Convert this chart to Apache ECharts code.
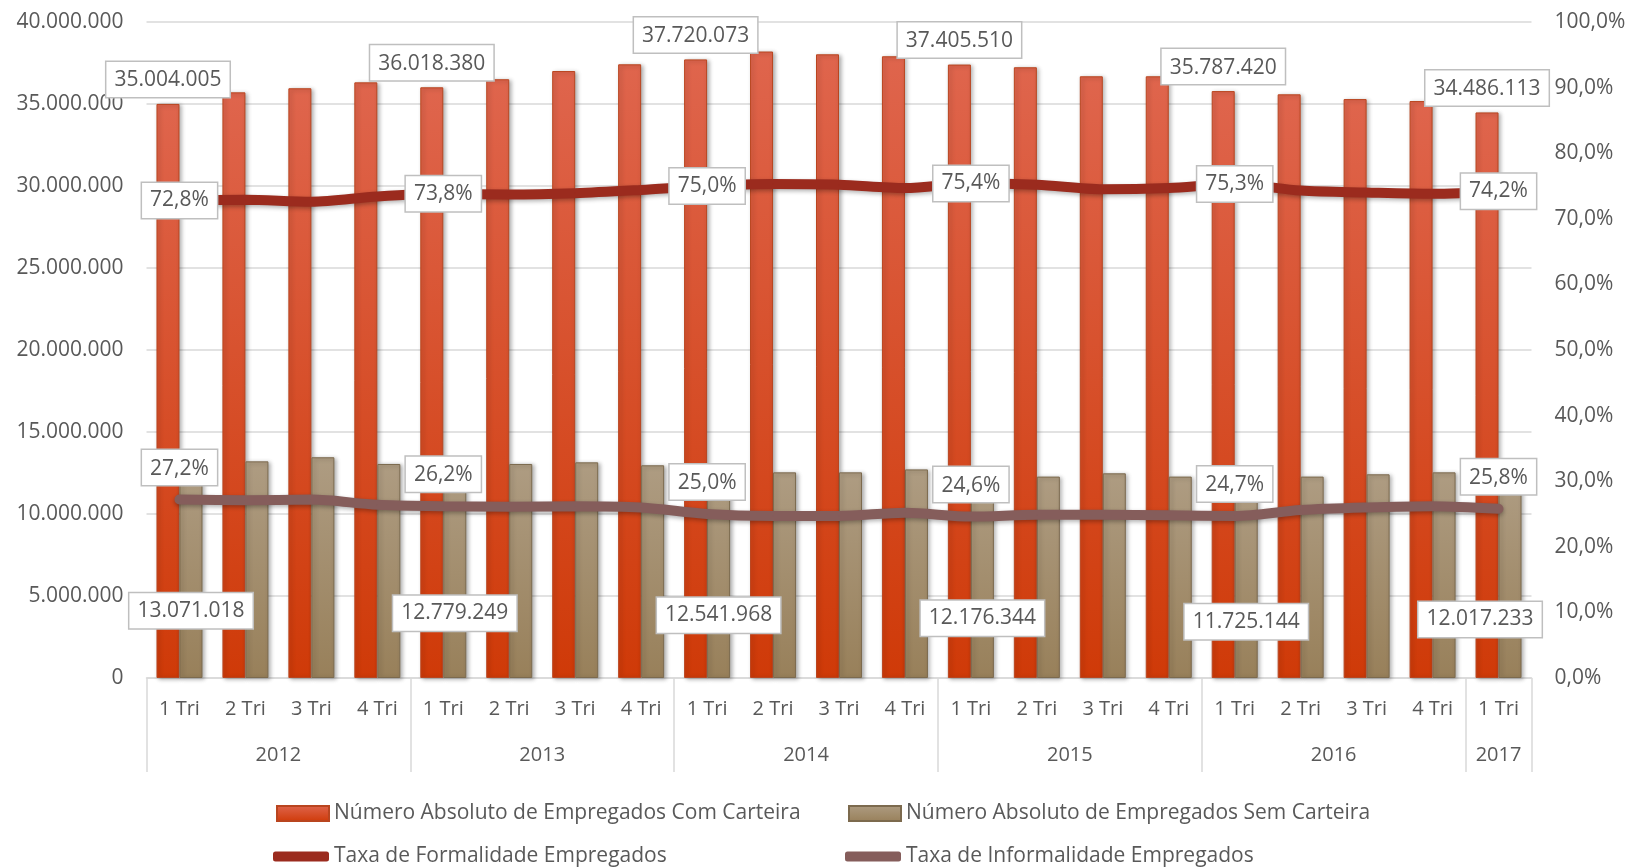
<!DOCTYPE html>
<html>
<head>
<meta charset="utf-8">
<script src="https://cdn.jsdelivr.net/npm/echarts@6/dist/echarts.min.js"></script>
<style>
	html, body { margin: 0; padding: 0; background: #fff; }
	#chart { width: 1631px; height: 868px; }
</style>
</head>
<body>
<div id="chart"></div>
<script>
	// categorias (trimestres) e anos
	const quarterLabels = ['1 Tri', '2 Tri', '3 Tri', '4 Tri', '1 Tri', '2 Tri', '3 Tri', '4 Tri', '1 Tri', '2 Tri', '3 Tri', '4 Tri',
		'1 Tri', '2 Tri', '3 Tri', '4 Tri', '1 Tri', '2 Tri', '3 Tri', '4 Tri', '1 Tri']
	const yearLabels = ['2012', '2013', '2014', '2015', '2016', '2017']
	const quartersPerYear = [4, 4, 4, 4, 4, 1]

	// séries
	const comCarteira = [35004005, 35710000, 35960000, 36320000, 36018380, 36510000, 37010000, 37420000, 37720073, 38200000, 38030000,
		37910000, 37405510, 37240000, 36690000, 36690000, 35787420, 35590000, 35300000, 35180000, 34486113]
	const semCarteira = [13071018, 13210000, 13460000, 13050000, 12779249, 13050000, 13150000, 12970000, 12541968, 12540000, 12540000,
		12720000, 12176344, 12280000, 12480000, 12280000, 11725144, 12280000, 12420000, 12540000, 12017233]
	const taxaFormal = [72.8, 72.9, 72.6, 73.4, 73.8, 73.7, 73.9, 74.4, 75.0, 75.3, 75.2, 74.7, 75.4, 75.2, 74.5, 74.7, 75.3, 74.3, 74.0, 73.8, 74.2]
	const taxaInformal = [27.2, 27.1, 27.2, 26.4, 26.2, 26.1, 26.2, 26.0, 25.0, 24.7, 24.7, 25.2, 24.6, 24.9, 24.9, 24.8, 24.7, 25.6, 26.0, 26.2, 25.8]

	const seriesNames = ['Número Absoluto de Empregados Com Carteira', 'Número Absoluto de Empregados Sem Carteira',
		'Taxa de Formalidade Empregados', 'Taxa de Informalidade Empregados']

	const FONT = '"Open Sans", "Noto Sans", sans-serif'
	const TEXT = '#595959'

	const fmtNum = v => String(Math.round(v)).replace(/\B(?=(\d{3})+(?!\d))/g, '.')
	const fmtPct = v => v.toFixed(1).replace('.', ',') + '%'

	// limites e centros dos anos no eixo inferior
	const yearBounds = [0]
	quartersPerYear.forEach(n => yearBounds.push(yearBounds[yearBounds.length - 1] + n))
	const yearCenters = yearLabels.map((y, i) => (yearBounds[i] + yearBounds[i + 1]) / 2)

	const boxLabel = {
		color: TEXT,
		fontFamily: FONT,
		fontSize: 21,
		backgroundColor: '#fff',
		borderColor: '#bfbfbf',
		borderWidth: 1.5,
		padding: [8, 8, 6, 8]
	}
	// rótulo só a cada 4 pontos; o último pode ser deslocado
	const every4 = (arr, label, lastShift) => arr.map((v, i) => {
		const l = Object.assign({ show: i % 4 === 0 }, label)
		if (lastShift && i === arr.length - 1) l.offset = [lastShift[0], lastShift[1]]
		return { value: v, label: l }
	})

	const dom = echarts.init(document.getElementById('chart'))
	const option = {
		backgroundColor: '#fff',
		animation: false,
		grid: {
			left: 146.5,
			right: 99.5,
			top: 22,
			bottom: 190
		},
		legend: [
			{ data: [seriesNames[0]], left: 271, top: 798, icon: 'rect', itemWidth: 52, itemHeight: 15 },
			{ data: [seriesNames[1]], left: 843, top: 798, icon: 'rect', itemWidth: 52, itemHeight: 15 },
			{ data: [seriesNames[2]], left: 268, top: 841, icon: 'roundRect', itemWidth: 56, itemHeight: 10 },
			{ data: [seriesNames[3]], left: 840, top: 841, icon: 'roundRect', itemWidth: 56, itemHeight: 10 }
		].map(l => Object.assign(l, {
			textStyle: { color: TEXT, fontFamily: FONT, fontSize: 21 },
			selectedMode: false
		})),
		xAxis: [{
			type: 'category',
			data: quarterLabels,
			axisLine: { lineStyle: { color: '#d9d9d9', width: 1.5 } },
			axisTick: { show: false },
			axisLabel: { color: TEXT, fontFamily: FONT, fontSize: 20, margin: 21, interval: 0 }
		}, {
			type: 'value',
			position: 'bottom',
			min: 0,
			max: quarterLabels.length,
			axisLine: { show: false },
			splitLine: { show: false },
			axisTick: {
				show: true,
				customValues: yearBounds,
				length: 94,
				lineStyle: { color: '#d9d9d9', width: 1.5 }
			},
			axisLabel: {
				customValues: yearCenters,
				formatter: v => yearLabels[yearCenters.indexOf(v)] || '',
				color: TEXT,
				fontFamily: FONT,
				fontSize: 20,
				margin: 67
			}
		}],
		yAxis: [{
			type: 'value',
			min: 0,
			max: 40000000,
			interval: 5000000,
			axisLine: { show: false },
			axisTick: { show: false },
			splitLine: { lineStyle: { color: '#d9d9d9', width: 1.5 } },
			axisLabel: { color: TEXT, fontFamily: FONT, fontSize: 21, margin: 23, formatter: fmtNum }
		}, {
			type: 'value',
			min: 0,
			max: 100,
			interval: 10,
			axisLine: { show: false },
			axisTick: { show: false },
			splitLine: { show: false },
			axisLabel: { color: TEXT, fontFamily: FONT, fontSize: 21, margin: 23, formatter: fmtPct }
		}],
		series: [{
			name: seriesNames[0],
			type: 'bar',
			barWidth: 23,
			barGap: '0%',
			data: every4(comCarteira, Object.assign({ position: 'top', distance: 7, formatter: p => fmtNum(p.value) }, boxLabel)),
			itemStyle: {
				color: new echarts.graphic.LinearGradient(0, 0, 0, 1, [
					{ offset: 0, color: '#df654d' },
					{ offset: 1, color: '#cf3a08' }
				]),
				borderColor: '#b9451f',
				borderWidth: 1,
				shadowBlur: 4,
				shadowOffsetX: 2,
				shadowOffsetY: 1,
				shadowColor: 'rgba(0,0,0,0.3)'
			}
		}, {
			name: seriesNames[1],
			type: 'bar',
			barWidth: 23,
			barGap: '0%',
			data: every4(semCarteira, Object.assign({ position: 'inside', offset: [0, 40], formatter: p => fmtNum(p.value) }, boxLabel), [-30, 40]),
			itemStyle: {
				color: new echarts.graphic.LinearGradient(0, 0, 0, 1, [
					{ offset: 0, color: '#ae9c82' },
					{ offset: 1, color: '#98805a' }
				]),
				borderColor: '#7c6a4e',
				borderWidth: 1,
				shadowBlur: 4,
				shadowOffsetX: 2,
				shadowOffsetY: 1,
				shadowColor: 'rgba(0,0,0,0.3)'
			}
		}, {
			name: seriesNames[2],
			type: 'line',
			yAxisIndex: 1,
			smooth: 0.3,
			symbol: 'circle',
			symbolSize: 1,
			data: every4(taxaFormal, Object.assign({ position: 'inside', formatter: p => fmtPct(p.value) }, boxLabel)),
			itemStyle: { color: '#9b2b1e' },
			lineStyle: {
				width: 10,
				cap: 'round',
				color: '#9b2b1e',
				shadowBlur: 4,
				shadowOffsetY: 2,
				shadowColor: 'rgba(0,0,0,0.3)'
			}
		}, {
			name: seriesNames[3],
			type: 'line',
			yAxisIndex: 1,
			smooth: 0.3,
			symbol: 'circle',
			symbolSize: 1,
			data: every4(taxaInformal, Object.assign({ position: 'top', distance: 14, formatter: p => fmtPct(p.value) }, boxLabel)),
			itemStyle: { color: '#855d5b' },
			lineStyle: {
				width: 10,
				cap: 'round',
				color: '#855d5b',
				shadowBlur: 4,
				shadowOffsetY: 2,
				shadowColor: 'rgba(0,0,0,0.3)'
			}
		}]
	}
	dom.setOption(option)
</script>
</body>
</html>
